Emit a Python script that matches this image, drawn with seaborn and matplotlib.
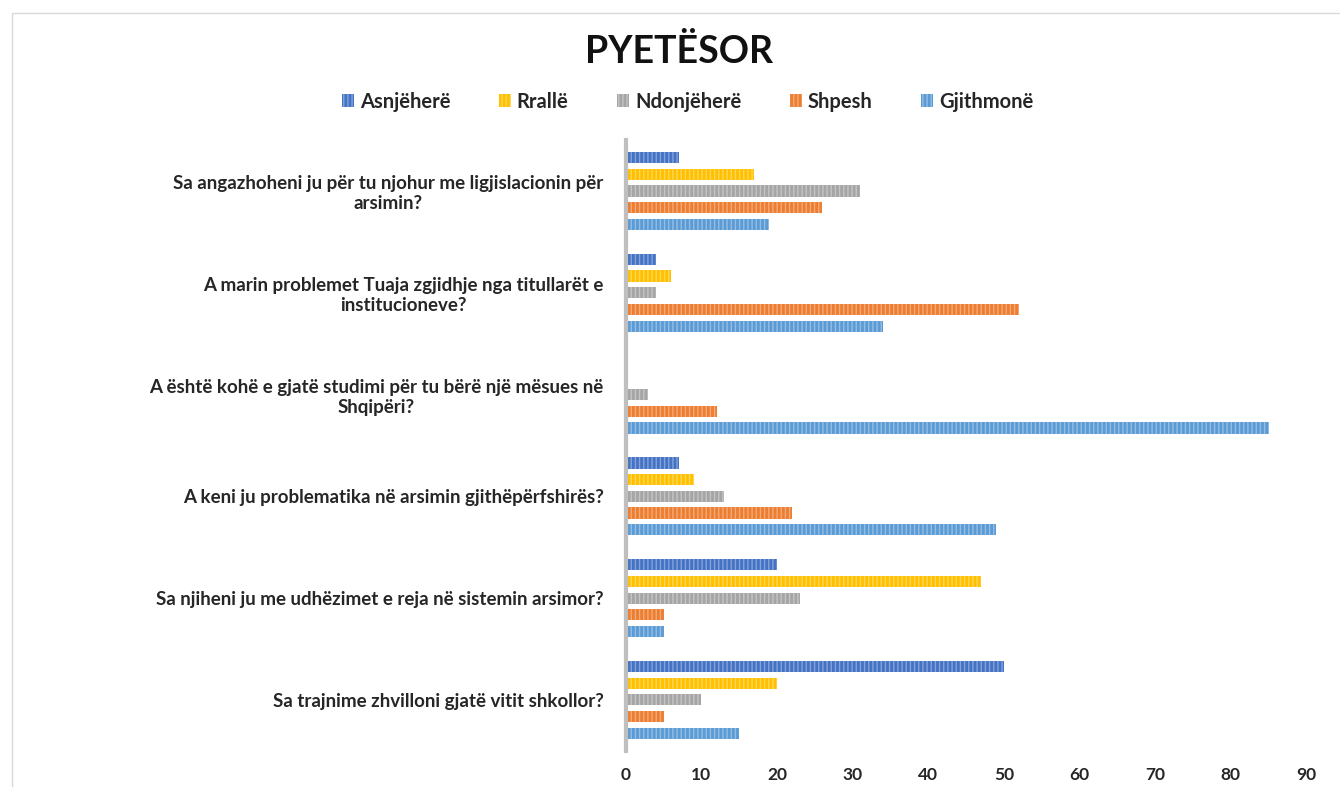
import matplotlib
matplotlib.use("Agg")
import matplotlib.pyplot as plt
import seaborn as sns
import pandas as pd
from matplotlib.patches import Patch, Rectangle

questions = [
    "Sa angazhoheni ju për tu njohur me ligjislacionin për\narsimin?",
    "A marin problemet Tuaja zgjidhje nga titullarët e\ninstitucioneve?",
    "A është kohë e gjatë studimi për tu bërë një mësues në\nShqipëri?",
    "A keni ju problematika në arsimin gjithëpërfshirës?",
    "Sa njiheni ju me udhëzimet e reja në sistemin arsimor?",
    "Sa trajnime zhvilloni gjatë vitit shkollor?",
]
answers = ["Asnjëherë", "Rrallë", "Ndonjëherë", "Shpesh", "Gjithmonë"]
asnjehere = [7, 4, 0, 7, 20, 50]
rralle = [17, 6, 0, 9, 47, 20]
ndonjehere = [31, 4, 3, 13, 23, 10]
shpesh = [26, 52, 12, 22, 5, 5]
gjithmone = [19, 34, 85, 49, 5, 15]
colors = ["#4472C4", "#FFC000", "#A5A5A5", "#ED7D31", "#5B9BD5"]

series = [asnjehere, rralle, ndonjehere, shpesh, gjithmone]
rows = []
for ans, vals in zip(answers, series):
    for q, v in zip(questions, vals):
        rows.append({"pyetja": q, "pergjigja": ans, "vlera": v})
df = pd.DataFrame(rows)

sns.set_style("white")
plt.rcParams["font.family"] = ["Lato", "DejaVu Sans"]
plt.rcParams["hatch.linewidth"] = 1.0

fig = plt.figure(figsize=(13.4, 7.87), dpi=100)
ax = fig.add_axes([0.467, 0.046, 0.508, 0.776])

sns.barplot(data=df, y="pyetja", x="vlera", hue="pergjigja", order=questions,
            hue_order=answers, palette=colors, orient="h", width=0.82, gap=0.33,
            saturation=1, ax=ax, legend=False)

for bars, c in zip(ax.containers, colors):
    for b in bars:
        b.set_hatch("||||")
        b.set_edgecolor((1, 1, 1, 0.35))
        b.set_linewidth(0)

ax.set_xlim(0, 90)
ax.set_xticks(range(0, 91, 10))
ax.set_xlabel("")
ax.set_ylabel("")
for s in ["top", "right", "bottom"]:
    ax.spines[s].set_visible(False)
ax.spines["left"].set_color("#BFBFBF")
ax.spines["left"].set_linewidth(3)
ax.tick_params(axis="x", length=0, pad=12, labelsize=12.5)
ax.tick_params(axis="y", length=0, pad=16, labelsize=13.5)
for lab in ax.get_xticklabels():
    lab.set_fontweight("bold")
for lab in ax.get_yticklabels():
    lab.set_fontweight("bold")
    lab.set_multialignment("center")

fig.text(0.507, 0.935, "PYETËSOR", ha="center", va="center", fontsize=27,
         fontweight="bold", color="#111111")

handles = [Patch(facecolor=c, edgecolor=(1, 1, 1, 0.35), hatch="||||", linewidth=0)
           for c in colors]
fig.legend(handles, answers, loc="center", bbox_to_anchor=(0.513, 0.871), ncol=5,
           frameon=False, handlelength=0.6, handleheight=0.6,
           handletextpad=0.3, columnspacing=2.4, prop={"weight": "bold", "size": 14.5})

fig.patches.append(Rectangle((0.009, -0.01), 1.0, 0.993, transform=fig.transFigure,
                             fill=False, edgecolor="#D9D9D9", linewidth=1))

fig.savefig("out.png", dpi=100)
